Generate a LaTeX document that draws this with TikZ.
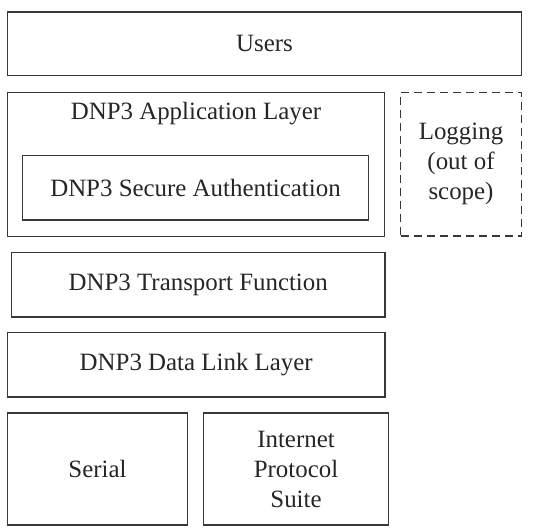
\documentclass[tikz,border=0pt]{standalone}
\usepackage{fontspec}
\setmainfont{Liberation Serif}
\begin{document}
\begin{tikzpicture}[x=1pt,y=-1pt,
  layerbox/.style={draw=black!78,line width=1.3pt,rectangle,inner sep=0pt,outer sep=0pt,text=black!85,font=\fontsize{24.9}{30}\selectfont,align=center},
  lbl/.style={inner sep=0pt,text=black!85,font=\fontsize{24.9}{30}\selectfont,align=center}]
\useasboundingbox (0,0) rectangle (533,532);
\node[layerbox,minimum width=514pt,minimum height=63.5pt] (users) at (264.5,43.75) {Users};
\node[layerbox,minimum width=377pt,minimum height=144pt] (app) at (196,164.5) {};
\node[lbl] (applbl) at (196,114) {DNP3 Application Layer};
\node[layerbox,minimum width=346pt,minimum height=64.5pt] (sa) at (195.5,187.75) {DNP3 Secure Authentication};
\node[layerbox,dash pattern=on 8pt off 5pt,minimum width=121pt,minimum height=143.5pt] (log) at (461,164.25) {Logging\\(out of\\scope)};
\node[layerbox,minimum width=373.5pt,minimum height=64.5pt] (tf) at (198.25,284.75) {DNP3 Transport Function};
\node[layerbox,minimum width=377.5pt,minimum height=64.5pt] (dl) at (196.25,364.75) {DNP3 Data Link Layer};
\node[layerbox,minimum width=180pt,minimum height=112pt] (serial) at (97.5,469) {Serial};
\node[layerbox,minimum width=185pt,minimum height=112pt] (ip) at (296,469) {Internet\\Protocol\\Suite};
\end{tikzpicture}
\end{document}
